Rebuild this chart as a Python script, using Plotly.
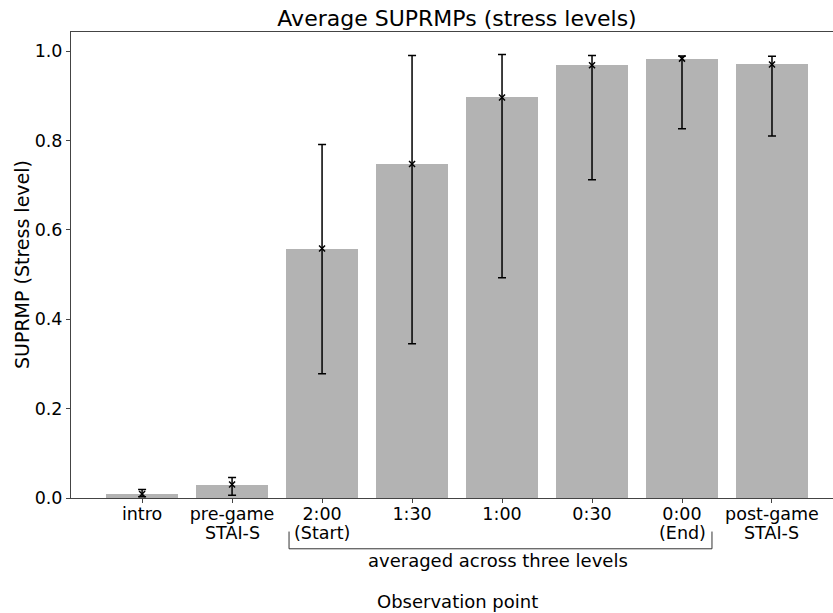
import plotly.graph_objects as go

categories = ["intro", "pre-game", "2:00", "1:30", "1:00", "0:30", "0:00", "post-game"]
sub_labels = ["", "STAI-S", "(Start)", "", "", "", "(End)", "STAI-S"]
means = [0.009, 0.030, 0.558, 0.747, 0.896, 0.968, 0.983, 0.970]
upper = [0.019, 0.046, 0.791, 0.990, 0.992, 0.990, 0.989, 0.988]
lower = [0.003, 0.006, 0.278, 0.345, 0.493, 0.712, 0.826, 0.810]
y_ticks = [0.0, 0.2, 0.4, 0.6, 0.8, 1.0]

x = list(range(len(categories)))
err_plus = [u - m for u, m in zip(upper, means)]
err_minus = [m - l for m, l in zip(means, lower)]

FONT = "DejaVu Sans"
TICK = 17.5
fig = go.Figure()
fig.add_trace(go.Bar(x=x, y=means, width=0.8, marker=dict(color="#b3b3b3", line=dict(width=0)), showlegend=False))
fig.add_trace(go.Scatter(
    x=x, y=means, mode="markers", showlegend=False,
    marker=dict(symbol="x-thin", size=6, color="black", line=dict(width=1.5, color="black")),
    error_y=dict(type="data", symmetric=False, array=err_plus, arrayminus=err_minus,
                 color="black", thickness=1.5, width=4),
))

# second line of the tick labels
for xi, s in zip(x, sub_labels):
    if s:
        fig.add_annotation(text=s, xref="x", yref="paper", x=xi, y=-0.0751, showarrow=False,
                           font=dict(family=FONT, size=TICK, color="black"), borderpad=0,
                           xanchor="center", yanchor="middle")

# bracket under the time points
fig.add_shape(type="line", xref="x", yref="paper", x0=1.633, x1=6.333, y0=-0.109, y1=-0.109,
              line=dict(color="#333333", width=1))
fig.add_shape(type="line", xref="x", yref="paper", x0=1.633, x1=1.633, y0=-0.072, y1=-0.109,
              line=dict(color="#333333", width=1))
fig.add_shape(type="line", xref="x", yref="paper", x0=6.333, x1=6.333, y0=-0.072, y1=-0.109,
              line=dict(color="#333333", width=1))
fig.add_annotation(text="averaged across three levels", xref="x", yref="paper", x=3.95, y=-0.135,
                   showarrow=False, font=dict(family=FONT, size=18, color="black"), xanchor="center", yanchor="middle")
fig.add_annotation(text="Observation point", xref="paper", yref="paper", x=0.5066, y=-0.223,
                   showarrow=False, font=dict(family=FONT, size=18, color="black"), xanchor="center", yanchor="middle")
fig.add_annotation(text="SUPRMP (Stress level)", xref="paper", yref="paper", x=-0.0643, y=0.5,
                   textangle=-90, showarrow=False, font=dict(family=FONT, size=19, color="black"),
                   xanchor="center", yanchor="middle")

fig.update_layout(
    width=833, height=613,
    margin=dict(l=71, r=0, t=32, b=115),
    paper_bgcolor="white", plot_bgcolor="white",
    font=dict(family=FONT, size=TICK, color="black"),
    title=dict(text="Average SUPRMPs (stress levels)", x=0.5066, xref="paper", y=1 - 18 / 613,
               yref="container", xanchor="center", yanchor="middle",
               font=dict(family=FONT, size=22, color="black")),
    bargap=0,
)
fig.update_xaxes(range=[-0.79, 7.678], tickvals=x, ticktext=categories, showline=True, mirror=True,
                 linecolor="#444444", linewidth=1, ticks="outside", ticklen=4, tickcolor="#444444",
                 ticklabelstandoff=-4,
                 showgrid=False, zeroline=False, tickfont=dict(family=FONT, size=TICK, color="black"))
fig.update_yaxes(range=[0, 1.0425], tickvals=y_ticks, ticktext=[f"{v:.1f}" for v in y_ticks],
                 showline=True, linecolor="#444444", linewidth=1, ticks="outside", ticklen=4,
                 tickcolor="#444444", showgrid=False, zeroline=False,
                 tickfont=dict(family=FONT, size=TICK, color="black"))

fig.write_html("out.html")
